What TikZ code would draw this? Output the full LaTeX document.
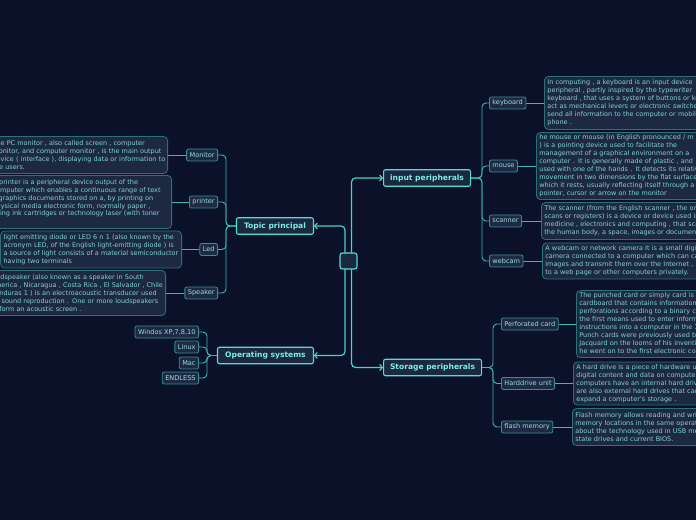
\documentclass[tikz,border=0pt]{standalone}
\usepackage{fontspec}
\setmainfont{DejaVu Sans}
\usetikzlibrary{arrows.meta}
\definecolor{cBg}{HTML}{0B1128}
\definecolor{cDescFill}{HTML}{1D2843}
\definecolor{cDescLine}{HTML}{2F7078}
\definecolor{cDescText}{HTML}{80D4CC}
\definecolor{cChildFill}{HTML}{1E2A45}
\definecolor{cChildLine}{HTML}{3A8C92}
\definecolor{cChildText}{HTML}{98DED8}
\definecolor{cMainFill}{HTML}{1C2742}
\definecolor{cMainLine}{HTML}{4FE0D2}
\definecolor{cMainText}{HTML}{78F0E2}
\definecolor{cConn}{HTML}{45D4C6}
\definecolor{cSub}{HTML}{3DB8B0}
\newcommand{\dline}[1]{\mbox{#1}}
\pgfdeclarelayer{bglayer}
\pgfdeclarelayer{connlayer}
\pgfsetlayers{bglayer,connlayer,main}
\begin{document}
\begin{tikzpicture}[x=1bp,y=-1bp,
  desc/.style={draw=cDescLine, fill=cDescFill, rounded corners=4bp, line width=0.8bp, text=cDescText,
    font=\fontsize{6.5}{8}\selectfont, align=left, inner xsep=3bp, inner ysep=0pt},
  child/.style={draw=cChildLine, fill=cChildFill, rounded corners=2bp, line width=0.8bp, text=cChildText,
    font=\fontsize{6.6}{7.5}\selectfont, inner xsep=3bp, inner ysep=0pt, minimum height=12bp},
  topic/.style={draw=cMainLine, fill=cMainFill, rounded corners=2bp, line width=1.1bp, text=cMainText,
    font=\bfseries\fontsize{7.6}{9}\selectfont, inner xsep=3bp, inner ysep=0pt, minimum height=16.5bp},
  mainlink/.style={draw=cConn, line width=1.2bp, rounded corners=4bp, -{Straight Barb[length=2.5bp,width=6bp]}},
  sublink/.style={draw=cSub, line width=0.9bp, rounded corners=4bp},
]
\path[use as bounding box] (0,0) rectangle (696,520);
\clip (0,0) rectangle (696,520);
\begin{pgfonlayer}{bglayer}
\fill[cBg] (0,0) rectangle (696,520);
\end{pgfonlayer}

% center and main topics
\node[draw=cMainLine, fill=cMainFill, rounded corners=2.5bp, line width=1.1bp, minimum width=17bp, minimum height=16bp, inner sep=0pt] (center) at (348.5,261) {};
\node[topic, anchor=east, minimum width=77bp] (topic) at (314,226) {Topic principal};
\node[topic, anchor=east, minimum width=96bp] (os) at (314,355.5) {Operating systems};
\node[topic, anchor=west, minimum width=87bp] (input) at (383,178) {input peripherals};
\node[topic, anchor=west, minimum width=98bp] (storage) at (383,367.5) {Storage peripherals};

% Topic principal children
\node[child, anchor=east] (monitor) at (218,155) {Monitor};
\node[child, anchor=east] (printer) at (218,202) {printer};
\node[child, anchor=east] (led) at (218,249.5) {Led};
\node[child, anchor=east] (speaker) at (218,293) {Speaker};

\node[desc, anchor=east, text width=172bp, minimum height=37bp] (monitorD) at (168,155) {%
\dline{The PC monitor , also called screen , computer}\\
\dline{monitor, and computer monitor , is the main output}\\
\dline{device ( interface ), displaying data or information to}\\
\dline{the users.}};
\node[desc, anchor=east, text width=176bp, minimum height=53bp] (printerD) at (172,202) {%
\dline{A printer is a peripheral device output of the}\\
\dline{computer which enables a continuous range of text}\\
\dline{y graphics documents stored on a, by printing on}\\
\dline{physical media electronic form, normally paper ,}\\
\dline{using ink cartridges or technology laser (with toner}\\
\dline{)}};
\node[desc, anchor=east, text width=175bp, minimum height=37bp] (ledD) at (182,249.5) {%
\dline{light emitting diode or LED 6 n 1 (also known by the}\\
\dline{acronym LED, of the English light-emitting diode ) is}\\
\dline{a source of light consists of a material semiconductor}\\
\dline{having two terminals}};
\node[desc, anchor=east, text width=172bp, minimum height=45bp] (speakerD) at (166,293) {%
\dline{loudspeaker (also known as a speaker in South}\\
\dline{America , Nicaragua , Costa Rica , El Salvador , Chile}\\
\dline{Honduras 1 ) is an electroacoustic transducer used}\\
\dline{for sound reproduction . One or more loudspeakers}\\
\dline{to form an acoustic screen .}};

% OS children
\node[child, anchor=east] (win) at (199,332) {Windos XP,7,8,10};
\node[child, anchor=east] (linux) at (199,347) {Linux};
\node[child, anchor=east] (mac) at (199,363) {Mac};
\node[child, anchor=east] (endless) at (199,378) {ENDLESS};

% input children
\node[child, anchor=west] (keyboard) at (489,103) {keyboard};
\node[child, anchor=west] (mouse) at (489,166) {mouse};
\node[child, anchor=west] (scanner) at (489,221) {scanner};
\node[child, anchor=west] (webcam) at (489,261) {webcam};

\node[desc, anchor=west, text width=200bp, minimum height=53bp] (keyboardD) at (544,103) {%
\dline{In computing , a keyboard is an input device}\\
\dline{peripheral , partly inspired by the typewriter}\\
\dline{keyboard , that uses a system of buttons or keys}\\
\dline{act as mechanical levers or electronic switches}\\
\dline{send all information to the computer or mobile}\\
\dline{phone .}};
\node[desc, anchor=west, text width=200bp, minimum height=67bp] (mouseD) at (536,166) {%
\dline{he mouse or mouse (in English pronounced / m}\\
\dline{) is a pointing device used to facilitate the}\\
\dline{management of a graphical environment on a}\\
\dline{computer . It is generally made of plastic , and}\\
\dline{used with one of the hands . It detects its relative}\\
\dline{movement in two dimensions by the flat surface}\\
\dline{which it rests, usually reflecting itself through a}\\
\dline{pointer, cursor or arrow on the monitor}};
\node[desc, anchor=west, text width=200bp, minimum height=37bp] (scannerD) at (541,221) {%
\dline{The scanner (from the English scanner , the original}\\
\dline{scans or registers) is a device or device used in}\\
\dline{medicine , electronics and computing , that scans}\\
\dline{the human body, a space, images or documents}};
\node[desc, anchor=west, text width=200bp, minimum height=36bp] (webcamD) at (542,261) {%
\dline{A webcam or network camera It is a small digital}\\
\dline{camera connected to a computer which can capture}\\
\dline{images and transmit them over the Internet ,}\\
\dline{to a web page or other computers privately.}};

% storage children
\node[child, anchor=west] (perf) at (501,324) {Perforated card};
\node[child, anchor=west] (hard) at (501,383.5) {Harddrive unit};
\node[child, anchor=west] (flash) at (501,427) {flash memory};

\node[desc, anchor=west, text width=200bp, minimum height=67bp] (perfD) at (576,324) {%
\dline{The punched card or simply card is}\\
\dline{cardboard that contains information}\\
\dline{perforations according to a binary code}\\
\dline{the first means used to enter information}\\
\dline{instructions into a computer in the 1960s}\\
\dline{Punch cards were previously used by}\\
\dline{Jacquard on the looms of his invention}\\
\dline{he went on to the first electronic computers}};
\node[desc, anchor=west, text width=200bp, minimum height=43bp] (hardD) at (573,383.5) {%
\dline{A hard drive is a piece of hardware used}\\
\dline{digital content and data on computers}\\
\dline{computers have an internal hard drive}\\
\dline{are also external hard drives that can}\\
\dline{expand a computer's storage .}};
\node[desc, anchor=west, text width=200bp, minimum height=37bp] (flashD) at (572,427) {%
\dline{Flash memory allows reading and writing}\\
\dline{memory locations in the same operation}\\
\dline{about the technology used in USB memory}\\
\dline{state drives and current BIOS.}};

\coordinate (tb) at (226,226);
\coordinate (ob) at (207,355.5);
\coordinate (ib) at (482,178);
\coordinate (sb) at (493,367.5);

\begin{pgfonlayer}{connlayer}
\draw[mainlink] ([xshift=-3.5bp]center.center) |- (topic.east);
\draw[mainlink] ([xshift=-3.5bp]center.center) |- (os.east);
\draw[mainlink] ([xshift=3bp]center.center) |- (input.west);
\draw[mainlink] ([xshift=3bp]center.center) |- (storage.west);

\foreach \c in {monitor,printer,led,speaker}
  {\draw[sublink] (topic.west) -- (tb) |- (\c.east);
   \draw[sublink] (\c.west) -- (\c D.east);}
\foreach \c in {win,linux,mac,endless}
  {\draw[sublink] (os.west) -- (ob) |- (\c.east);}
\foreach \c in {keyboard,mouse,scanner,webcam}
  {\draw[sublink] (input.east) -- (ib) |- (\c.west);
   \draw[sublink] (\c.east) -- (\c D.west);}
\foreach \c in {perf,hard,flash}
  {\draw[sublink] (storage.east) -- (sb) |- (\c.west);
   \draw[sublink] (\c.east) -- (\c D.west);}
\end{pgfonlayer}
\end{tikzpicture}
\end{document}
